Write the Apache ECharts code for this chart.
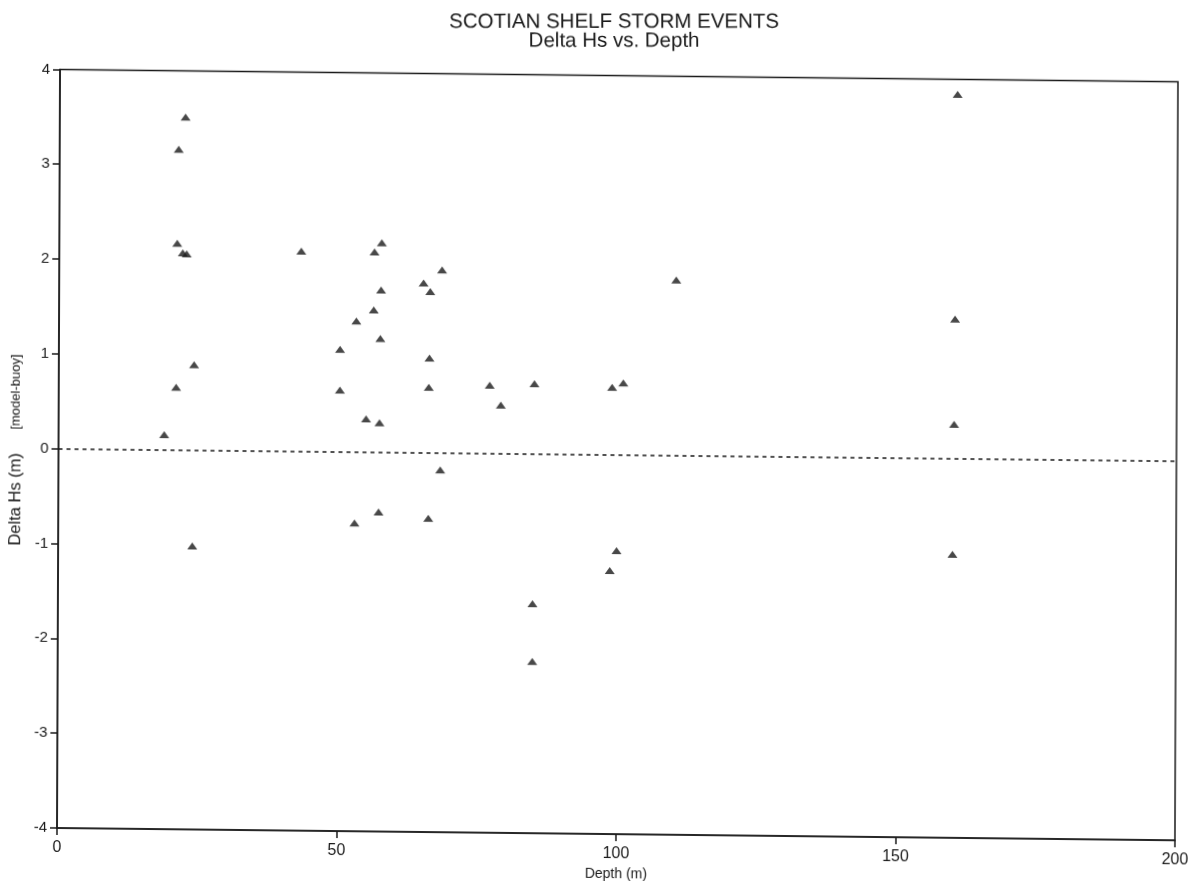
<!DOCTYPE html>
<html>
<head>
<meta charset="utf-8">
<title>Scotian Shelf Storm Events</title>
<script src="https://cdn.jsdelivr.net/npm/echarts@6/dist/echarts.min.js"></script>
<style>
  html, body { margin: 0; padding: 0; background: #ffffff; }
  /* the printed plot sits slightly askew on the page */
  #chart {
    width: 1201px; height: 881px;
    transform-origin: 57px 828px;
    transform: matrix(1, 0.011, -0.004, 1, 0, 0);
  }
</style>
</head>
<body>
<div id="chart"></div>
<script>
// Station depth (m) for each storm event comparison
const depth = [
  18.9, 21.0, 21.3, 21.1, 22.5, 22.1, 22.8, 24.2, 24.0,
  43.3, 50.3, 50.3, 53.2, 55.0, 53.0, 56.3, 56.4, 57.7, 57.6, 57.5, 57.4, 57.3,
  65.2, 66.4, 68.5, 66.3, 66.2, 66.2, 68.3,
  77.1, 79.1, 85.1, 84.9, 84.9,
  99.0, 101.0, 99.9, 98.7, 110.4,
  160.6, 160.3, 160.2, 160.0
];
// Difference in significant wave height, model minus buoy (m)
const deltaHs = [
  0.16, 0.66, 3.17, 2.18, 3.51, 2.08, 2.07, 0.90, -1.01,
  2.11, 1.08, 0.65, 1.38, 0.35, -0.75, 1.50, 2.11, 2.21, 1.71, 1.20, 0.31, -0.63,
  1.79, 1.70, 1.93, 1.00, 0.69, -0.69, -0.18,
  0.72, 0.51, 0.74, -1.58, -2.19,
  0.71, 0.76, -1.01, -1.22, 1.85,
  3.84, 1.47, 0.36, -1.01
];
const depthTicks = [0, 50, 100, 150, 200];
const deltaTicks = [-4, -3, -2, -1, 0, 1, 2, 3, 4];
const titleLines = ['SCOTIAN SHELF STORM EVENTS', 'Delta Hs vs. Depth'];

const points = depth.map((d, i) => [d, deltaHs[i]]);
const ink = '#1a1a1a';
const font = '"Liberation Sans", Arial, Helvetica, sans-serif';

// headings are kept level on the page while the plot frame is tilted
const headingTilt = 0.011;
const heading = (text, y) => ({
  type: 'text', x: 611, y: y, rotation: headingTilt, silent: true,
  style: {
    text: text, fill: ink, fontFamily: font, fontSize: 20.5,
    align: 'center', verticalAlign: 'middle'
  }
});

const chart = echarts.init(document.getElementById('chart'), null, { renderer: 'canvas' });
chart.setOption({
  backgroundColor: '#ffffff',
  animation: false,
  graphic: [heading(titleLines[0], 16), heading(titleLines[1], 35)],
  grid: {
    left: 57, top: 69.4, width: 1118, height: 758.6,
    outerBoundsMode: 'none', containLabel: false,
    show: true, borderColor: ink, borderWidth: 1.5, backgroundColor: 'transparent'
  },
  xAxis: {
    type: 'value',
    min: depthTicks[0], max: depthTicks[depthTicks.length - 1], interval: 50,
    name: 'Depth (m)', nameLocation: 'middle', nameGap: 28,
    nameTextStyle: { fontFamily: font, fontSize: 14, color: ink },
    axisLine: { show: true, onZero: false, lineStyle: { color: ink, width: 1.5 } },
    axisTick: { show: true, inside: false, length: 7, lineStyle: { color: ink, width: 1.5 } },
    axisLabel: { margin: 12, fontFamily: font, fontSize: 16, color: ink },
    splitLine: { show: false }
  },
  yAxis: {
    type: 'value',
    min: deltaTicks[0], max: deltaTicks[deltaTicks.length - 1], interval: 1,
    name: '{a|Delta Hs (m)}      {b|[model-buoy] }', nameLocation: 'middle', nameRotate: 90, nameGap: 27,
    nameTextStyle: {
      fontFamily: font, fontSize: 14, color: ink,
      rich: {
        a: { fontFamily: font, fontSize: 16.5, color: ink },
        b: { fontFamily: font, fontSize: 13, color: ink }
      }
    },
    axisLine: { show: true, onZero: false, lineStyle: { color: ink, width: 1.5 } },
    axisTick: { show: true, inside: false, length: 7, lineStyle: { color: ink, width: 1.5 } },
    axisLabel: { margin: 10, fontFamily: font, fontSize: 15, color: ink },
    splitLine: { show: false }
  },
  series: [{
    type: 'scatter',
    data: points,
    symbol: 'triangle',
    symbolSize: [10, 7],
    itemStyle: { color: ink },
    markLine: {
      silent: true,
      symbol: ['none', 'none'],
      label: { show: false },
      lineStyle: { color: ink, type: [4, 4], width: 1.5 },
      data: [{ yAxis: 0 }]
    }
  }]
});
</script>
</body>
</html>
